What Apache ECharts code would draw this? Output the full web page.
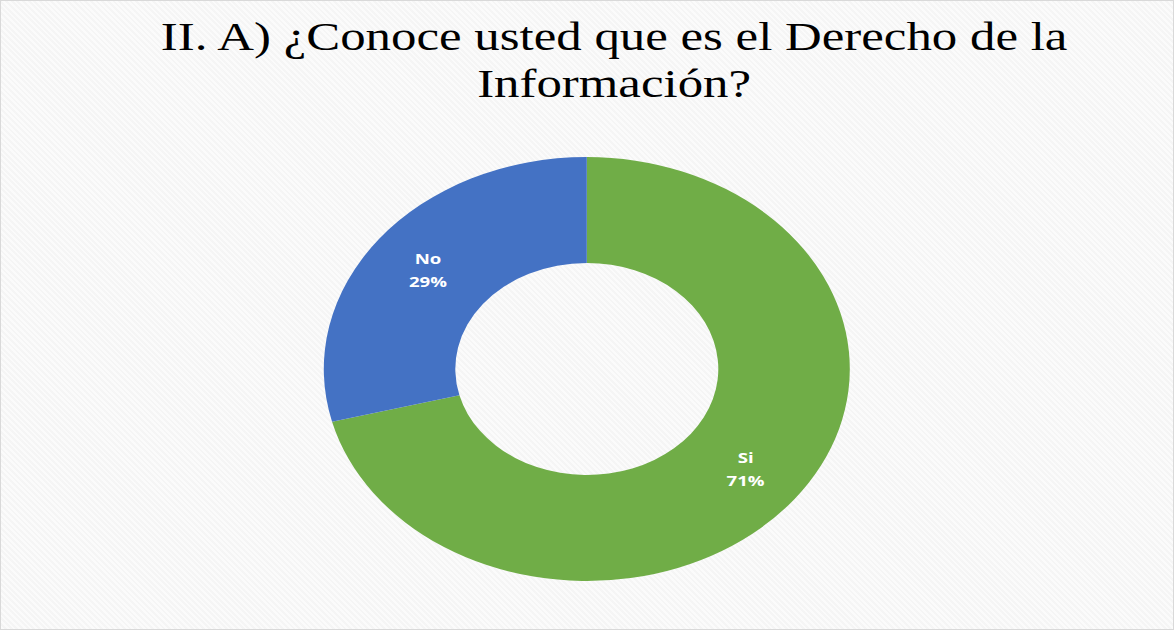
<!DOCTYPE html>
<html>
<head>
<meta charset="utf-8">
<script src="https://cdn.jsdelivr.net/npm/echarts@6/dist/echarts.min.js"></script>
<style>
  html, body { margin: 0; padding: 0; width: 1174px; height: 630px; overflow: hidden; }
  body {
    background-color: #fbfbfb;
    background-image: repeating-linear-gradient(45deg, rgba(0,0,0,0.025) 0px, rgba(0,0,0,0.025) 2px, rgba(255,255,255,0) 2px, rgba(255,255,255,0) 4px);
  }
  #frame { position: absolute; left: 0; top: 0; width: 1172px; height: 628px; border: 1px solid #d9d9d9; }
  #chart { position: absolute; left: 0; top: 0; width: 946px; height: 630px; transform-origin: 0 0; transform: scaleX(1.2406); }
</style>
</head>
<body>
<div id="frame"></div>
<div id="chart"></div>
<script>
const titleLines = ['II. A) ¿Conoce usted que es el Derecho de la', 'Información?'];
const categories = ['Si', 'No'];
const values = [71, 29];
const colors = ['#70AD47', '#4472C4'];

const chart = echarts.init(document.getElementById('chart'), null, { renderer: 'svg' });
chart.setOption({
  backgroundColor: 'transparent',
  animation: false,
  title: {
    text: titleLines.join('\n'),
    left: 490,
    top: 8,
    textAlign: 'center',
    textStyle: {
      fontFamily: 'Liberation Serif',
      fontWeight: 'normal',
      fontSize: 41,
      lineHeight: 47,
      color: '#000000'
    }
  },
  series: [{
    type: 'pie',
    center: [473, 369],
    radius: [106, 212],
    startAngle: 90,
    clockwise: true,
    silent: true,
    label: {
      show: true,
      position: 'inside',
      formatter: function (p) { return p.name + '\n' + Math.round(p.percent) + '%'; },
      color: '#ffffff',
      fontFamily: 'Open Sans',
      fontWeight: 'bold',
      fontSize: 15,
      lineHeight: 23
    },
    labelLine: { show: false },
    itemStyle: { borderWidth: 0 },
    data: categories.map((c, i) => ({ name: c, value: values[i], itemStyle: { color: colors[i] } }))
  }]
});
</script>
</body>
</html>
